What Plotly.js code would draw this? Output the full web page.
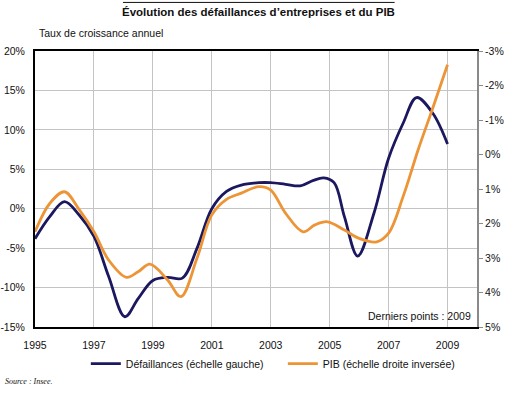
<!DOCTYPE html>
<html>
<head>
<meta charset="utf-8">
<script src="https://cdn.plot.ly/plotly-3.0.1.min.js"></script>
<style>
html,body{margin:0;padding:0;background:#fff;}
#chart{width:519px;height:398px;}
</style>
</head>
<body>
<div id="chart"></div>
<script>
// Défaillances d'entreprises (taux de croissance annuel, échelle gauche)
const defYears = [1995, 1995.5, 1996, 1996.5, 1997, 1997.5, 1998.05, 1998.5, 1999, 1999.5, 2000, 2000.5, 2001, 2001.5, 2002, 2002.6, 2003, 2003.5, 2004, 2004.45, 2004.8, 2005.15, 2005.5, 2005.95, 2006.5, 2007, 2007.5, 2007.95, 2008.5, 2009];
const defValues = [-3.8, -1.0, 0.9, -0.8, -3.5, -8.6, -13.7, -11.4, -9.1, -8.7, -8.8, -5.0, 0.0, 2.2, 3.0, 3.3, 3.3, 3.1, 2.9, 3.6, 3.9, 3.3, -1.0, -6.0, -0.6, 6.4, 10.9, 14.1, 12.1, 8.2];

// PIB (taux de croissance annuel, échelle droite inversée)
const pibYears = [1995, 1995.5, 1996, 1996.5, 1997, 1997.5, 1998.1, 1998.5, 1998.9, 1999.5, 1999.95, 2000.5, 2001, 2001.5, 2002, 2002.6, 2003, 2003.5, 2004.1, 2004.5, 2004.93, 2005.5, 2006, 2006.6, 2007, 2007.5, 2008, 2008.5, 2009];
const pibValues = [2.24, 1.42, 1.08, 1.6, 2.24, 3.06, 3.56, 3.4, 3.18, 3.64, 4.12, 3.0, 1.75, 1.3, 1.12, 0.93, 1.03, 1.7, 2.24, 2.04, 1.95, 2.19, 2.43, 2.53, 2.28, 1.2, -0.13, -1.35, -2.6];

const xTicks = [1995, 1997, 1999, 2001, 2003, 2005, 2007, 2009];
const xTickText = ['1995', '1997', '1999', '2001', '2003', '2005', '2007', '2009'];
const leftTicks = [-15, -10, -5, 0, 5, 10, 15, 20];
const leftTickText = ['-15%', '-10%', '-5%', '0%', '5%', '10%', '15%', '20%'];
const rightTicks = [-3, -2, -1, 0, 1, 2, 3, 4, 5];
const rightTickText = ['-3%', '-2%', '-1%', '0%', '1%', '2%', '3%', '4%', '5%'];

const FONT = '"Liberation Sans", Arial, sans-serif';
const NAVY = '#1b1860';
const ORANGE = '#ec9436';
const FS = 10.5;

const traces = [
  {
    x: defYears, y: defValues, name: 'Défaillances (échelle gauche)',
    type: 'scatter', mode: 'lines', yaxis: 'y',
    line: {color: NAVY, width: 2.8, shape: 'spline', smoothing: 1}
  },
  {
    x: pibYears, y: pibValues, name: 'PIB (échelle droite inversée)',
    type: 'scatter', mode: 'lines', yaxis: 'y2',
    line: {color: ORANGE, width: 2.8, shape: 'spline', smoothing: 1}
  }
];

const layout = {
  width: 519, height: 398,
  margin: {l: 35, r: 41.5, t: 51, b: 71, autoexpand: false},
  paper_bgcolor: '#fff', plot_bgcolor: '#fff',
  font: {family: FONT, size: FS, color: '#111'},
  showlegend: true,
  legend: {
    orientation: 'h', x: 0.115, xanchor: 'left', y: -0.08, yanchor: 'top',
    font: {family: FONT, size: FS, color: '#111'},
    itemwidth: 30, entrywidth: 152, tracegroupgap: 0
  },
  xaxis: {
    range: [1995, 2010], tickvals: xTicks, ticktext: xTickText,
    showgrid: true, gridcolor: '#c4c4c4', gridwidth: 1,
    showline: true, linecolor: '#000', linewidth: 2, mirror: true,
    ticks: '', ticklabelstandoff: 7, zeroline: false,
    tickfont: {family: FONT, size: FS, color: '#111'}
  },
  yaxis: {
    range: [-15, 20], tickvals: leftTicks, ticktext: leftTickText,
    showgrid: true, gridcolor: '#c4c4c4', gridwidth: 1,
    showline: true, linecolor: '#000', linewidth: 2,
    ticks: '', ticklabelstandoff: 6, zeroline: false,
    tickfont: {family: FONT, size: FS, color: '#111'}
  },
  yaxis2: {
    overlaying: 'y', side: 'right', range: [5, -3],
    tickvals: rightTicks, ticktext: rightTickText,
    showgrid: false, zeroline: false,
    showline: true, linecolor: '#8a8a8a', linewidth: 2,
    ticks: 'outside', ticklen: 4, tickcolor: '#8a8a8a', tickwidth: 1,
    tickfont: {family: FONT, size: FS, color: '#111'}
  },
  annotations: [
    {text: '<b>Évolution des défaillances d’entreprises et du PIB</b>', xref: 'paper', yref: 'paper',
     x: 0.505, y: 1.141, xanchor: 'center', yanchor: 'middle', showarrow: false,
     font: {family: FONT, size: 11.5, color: '#111'}},
    {text: 'Taux de croissance annuel', xref: 'paper', yref: 'paper',
     x: 0.005, y: 1.065, xanchor: 'left', yanchor: 'middle', showarrow: false,
     font: {family: FONT, size: FS, color: '#111'}},
    {text: 'Derniers points : 2009', xref: 'paper', yref: 'paper',
     x: 0.99, y: 0.04, xanchor: 'right', yanchor: 'middle', showarrow: false,
     font: {family: FONT, size: FS, color: '#111'}},
    {text: '<i>Source : Insee.</i>', xref: 'paper', yref: 'paper',
     x: -0.072, y: -0.196, xanchor: 'left', yanchor: 'middle', showarrow: false,
     font: {family: '"Liberation Serif", "Times New Roman", serif', size: 8, color: '#111'}}
  ],
  shapes: [
    {type: 'line', xref: 'paper', yref: 'paper', x0: 0.199, x1: 0.8136, y0: 1.176, y1: 1.176,
     line: {color: '#111', width: 1}}
  ]
};

Plotly.newPlot('chart', traces, layout, {displayModeBar: false, staticPlot: true});
</script>
</body>
</html>
